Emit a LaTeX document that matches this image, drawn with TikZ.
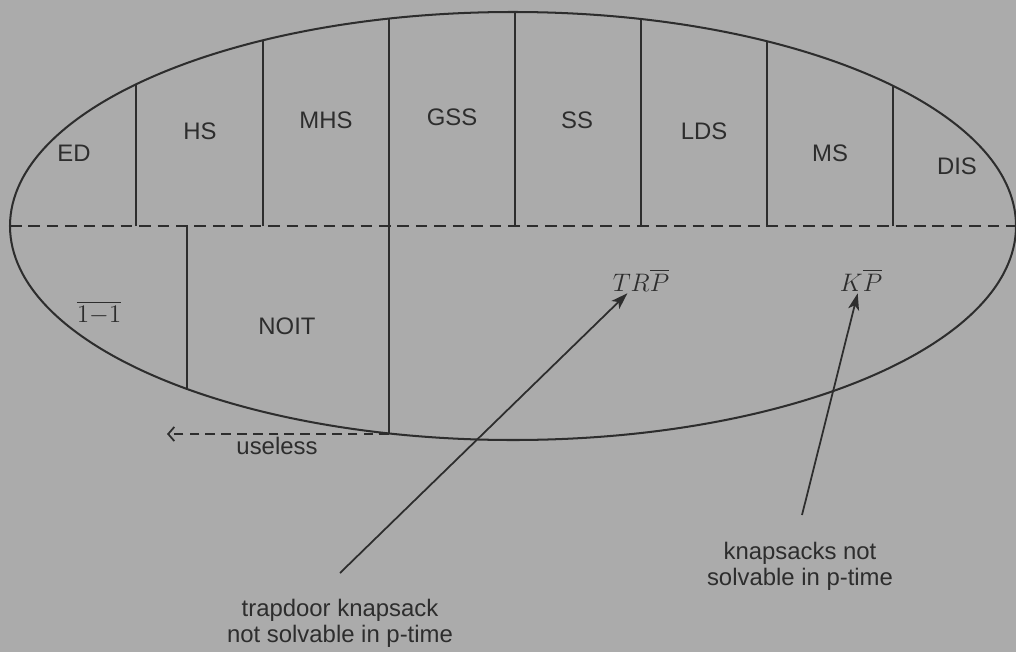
\documentclass[tikz,border=0pt]{standalone}
\usepackage{amsmath}
\usepackage{fontspec}
\setmainfont{Liberation Sans}
\usepackage{tikz}
\usetikzlibrary{arrows, arrows.meta, calc}
\definecolor{paper}{RGB}{171,171,171}
\definecolor{ink}{RGB}{45,45,45}
\tikzset{
    >={Stealth[length=9.5pt, width=6.3pt, inset=2.4pt]},
    outline/.style={ink, line width=1.15pt},
    divider/.style={ink, line width=1pt},
    split/.style={ink, line width=1.1pt, dash pattern=on 6.6pt off 3.9pt},
    region/.style={ink, font=\fontsize{13.6}{14.8}\selectfont, inner sep=1pt},
    note/.style={region, align=center, inner sep=0pt, anchor=north},
    pointer/.style={ink, line width=1pt, ->},
}

\begin{document}
\begin{tikzpicture}[x=0.02cm, y=-0.02cm]
        \useasboundingbox (0,0) rectangle (1016,652);
        \fill[paper] (0,0) rectangle (1016,652);
        % the partitions, cut off by the outline
        \begin{scope}
            \clip (513,226) ellipse [x radius=503, y radius=214];
            \foreach \x in {136,263,389,515,641,767,893} \draw[divider] (\x,226) -- (\x,0);
            \foreach \x in {187,389} \draw[divider] (\x,226) -- (\x,652);
        \end{scope}
        \draw[outline] (513,226) ellipse [x radius=503, y radius=214];
        \draw[split] (10,226) -- (1016,226);
        % upper half
        \foreach \name/\x/\y in {ED/74/153, HS/200/131, MHS/326/120, GSS/452/117,
                SS/577/120, LDS/704/131, MS/830/153, DIS/957/166} {
            \node[region] (\name) at (\x,\y) {\name};
        };
        % lower half
        \node[region] (oneone) at (99,313) {$\overline{1{-}1}$};
        \node[region] (NOIT) at (287,326) {NOIT};
        \node[region] (TRP) at (641,280) {$TR\overline{P}$};
        \node[region] (KP) at (861,280) {$K\overline{P}$};
        % useless
        \coordinate (cut) at (389,434);
        \coordinate (uselesstip) at (167,434);
        \draw[split, line width=1pt, dash pattern=on 5.5pt off 3.5pt, -{Straight Barb[length=3.5pt, width=8pt]}] (cut) -- (uselesstip);
        \node[region] (useless) at (277,446) {useless};
        % notes below
        \node[note] (trapnote) at (340,599) {trapdoor knapsack\\not solvable in p-time};
        \node[note] (knapnote) at (800,542) {knapsacks not\\solvable in p-time};
        \coordinate (trapfoot) at (340,573);
        \coordinate (knapfoot) at (802,515);
        \draw[pointer] (trapfoot) -- (TRP);
        \draw[pointer] (knapfoot) -- (KP);
    \end{tikzpicture}
\end{document}
